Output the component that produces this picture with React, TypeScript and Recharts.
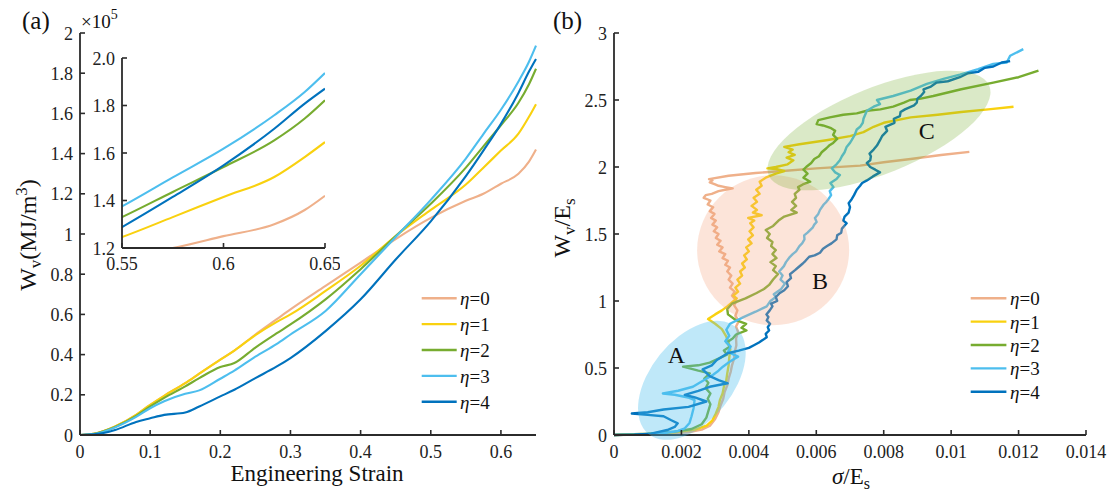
import React from 'react';
import { LineChart, Line, XAxis, YAxis, ReferenceDot, Legend } from 'recharts';

const FONT = '"Liberation Serif", "Times New Roman", Times, serif';
const AXIS = '#2b2b2b';

// ---------- shared series info ----------
const etaValues = [0, 1, 2, 3, 4];
const colors = ['#EFB08A', '#F9D10F', '#77AC30', '#4DBEEE', '#0072BD'];

// ---------- panel (a): Wv (x10^5 MJ/m^3) vs engineering strain ----------
const strain = [0, 0.02, 0.05, 0.08, 0.1, 0.12, 0.15, 0.17, 0.2, 0.22, 0.25, 0.28, 0.3, 0.35, 0.4, 0.45, 0.5, 0.55, 0.575, 0.6, 0.625, 0.64, 0.65];
const wvEta0 = [0, 0.006, 0.042, 0.1, 0.15, 0.195, 0.258, 0.305, 0.375, 0.42, 0.5, 0.575, 0.625, 0.742, 0.858, 0.975, 1.08, 1.165, 1.2, 1.25, 1.3, 1.36, 1.42];
const wvEta1 = [0, 0.006, 0.042, 0.1, 0.15, 0.195, 0.258, 0.305, 0.375, 0.42, 0.497, 0.562, 0.6, 0.717, 0.842, 0.99, 1.12, 1.246, 1.33, 1.415, 1.499, 1.583, 1.646];
const wvEta2 = [0, 0.006, 0.04, 0.095, 0.142, 0.185, 0.242, 0.283, 0.338, 0.358, 0.435, 0.505, 0.55, 0.675, 0.825, 0.99, 1.15, 1.33, 1.436, 1.541, 1.653, 1.745, 1.822];
const wvEta3 = [0, 0.005, 0.038, 0.09, 0.133, 0.168, 0.205, 0.222, 0.28, 0.32, 0.39, 0.452, 0.5, 0.617, 0.8, 0.985, 1.17, 1.375, 1.497, 1.618, 1.759, 1.857, 1.937];
const wvEta4 = [0, 0.003, 0.025, 0.065, 0.083, 0.1, 0.112, 0.142, 0.192, 0.225, 0.283, 0.34, 0.383, 0.517, 0.675, 0.873, 1.063, 1.288, 1.415, 1.548, 1.702, 1.808, 1.871];

const strainTicks = [0, 0.1, 0.2, 0.3, 0.4, 0.5, 0.6];
const wvTicks = [0, 0.2, 0.4, 0.6, 0.8, 1, 1.2, 1.4, 1.6, 1.8, 2];
const insetStrainTicks = [0.55, 0.6, 0.65];
const insetWvTicks = [1.2, 1.4, 1.6, 1.8, 2.0];

const wvSeries = [wvEta0, wvEta1, wvEta2, wvEta3, wvEta4];
const tableA = strain.map((s, i) => {
  const row: Record<string, number> = { s };
  wvSeries.forEach((arr, k) => { row['e' + k] = arr[i]; });
  return row;
});

// ---------- panel (b): Wv/Es vs sigma/Es ; pairs are [sigma/Es in units of 1e-3, Wv/Es] ----------
const sigmaTicks = [0, 0.002, 0.004, 0.006, 0.008, 0.01, 0.012, 0.014];
const ratioTicks = [0, 0.5, 1, 1.5, 2, 2.5, 3];

const bEta0: [number, number][] = [[0,0],[0.8,0.004],[1.6,0.01],[2.2,0.02],[2.6,0.04],[2.85,0.07],[3.0,0.12],[3.1,0.17],[3.16,0.22],[3.24,0.27],[3.28,0.32],[3.36,0.37],[3.4,0.42],[3.46,0.47],[3.5,0.52],[3.56,0.57],[3.58,0.62],[3.63,0.67],[3.62,0.72],[3.68,0.77],[3.62,0.81],[3.7,0.85],[3.6,0.89],[3.66,0.93],[3.56,0.97],[3.64,1.0],[3.5,1.04],[3.58,1.07],[3.44,1.1],[3.52,1.13],[3.4,1.16],[3.48,1.19],[3.36,1.22],[3.44,1.25],[3.3,1.27],[3.38,1.3],[3.22,1.32],[3.3,1.35],[3.12,1.37],[3.22,1.4],[3.06,1.42],[3.16,1.45],[3.02,1.47],[3.1,1.5],[2.96,1.52],[3.06,1.55],[2.92,1.57],[3.02,1.6],[2.88,1.62],[2.98,1.65],[2.84,1.67],[2.94,1.7],[2.78,1.72],[2.86,1.75],[2.66,1.77],[2.72,1.79],[2.9,1.8],[3.1,1.82],[3.3,1.83],[3.52,1.84],[3.3,1.85],[3.1,1.86],[3.0,1.87],[2.84,1.885],[2.92,1.9],[2.82,1.91],[3.4,1.935],[4.2,1.955],[5.0,1.97],[6.0,1.99],[7.3,2.01],[8.0,2.035],[8.8,2.06],[9.7,2.09],[10.54,2.113]];
const bEta1: [number, number][] = [[0,0],[1.0,0.008],[1.8,0.02],[2.4,0.04],[2.75,0.07],[2.92,0.11],[3.02,0.16],[3.1,0.21],[3.14,0.26],[3.22,0.31],[3.26,0.36],[3.33,0.41],[3.36,0.46],[3.4,0.52],[3.42,0.58],[3.45,0.64],[3.4,0.69],[3.32,0.74],[3.2,0.79],[3.0,0.83],[2.79,0.865],[3.0,0.9],[3.2,0.93],[3.36,0.96],[3.5,0.99],[3.64,1.02],[3.54,1.04],[3.68,1.07],[3.6,1.1],[3.74,1.13],[3.66,1.16],[3.8,1.19],[3.74,1.22],[3.88,1.25],[3.8,1.28],[3.94,1.31],[3.86,1.34],[4.0,1.37],[3.92,1.4],[4.08,1.43],[3.98,1.46],[4.12,1.49],[4.02,1.52],[4.14,1.55],[4.04,1.58],[4.16,1.6],[3.98,1.62],[4.38,1.64],[4.12,1.66],[4.24,1.68],[4.08,1.71],[4.24,1.74],[4.14,1.77],[4.32,1.8],[4.22,1.83],[4.38,1.86],[4.32,1.89],[4.5,1.92],[4.8,1.95],[5.05,1.97],[4.8,1.985],[4.55,1.99],[4.8,2.0],[5.15,2.02],[5.32,2.05],[5.12,2.07],[5.36,2.09],[5.18,2.11],[5.3,2.13],[5.05,2.15],[5.5,2.17],[6.3,2.2],[7.0,2.23],[7.4,2.26],[7.7,2.3],[8.0,2.33],[8.8,2.37],[9.6,2.39],[10.3,2.41],[11.1,2.43],[11.85,2.45]];
const bEta2: [number, number][] = [[0,0],[1.0,0.01],[1.8,0.025],[2.3,0.045],[2.6,0.08],[2.74,0.13],[2.8,0.18],[2.86,0.23],[2.78,0.27],[2.86,0.31],[2.72,0.35],[2.8,0.39],[2.68,0.42],[2.84,0.46],[2.5,0.48],[2.05,0.51],[2.5,0.52],[2.84,0.54],[3.1,0.57],[3.35,0.6],[3.26,0.63],[3.44,0.66],[3.34,0.69],[3.52,0.72],[3.62,0.75],[3.93,0.78],[3.78,0.8],[3.92,0.83],[3.6,0.86],[3.38,0.9],[3.36,0.94],[3.5,0.98],[3.9,1.02],[4.23,1.06],[4.45,1.09],[4.6,1.12],[4.72,1.16],[4.86,1.2],[4.72,1.23],[4.8,1.26],[4.64,1.29],[4.82,1.32],[4.7,1.35],[4.8,1.38],[4.66,1.41],[4.7,1.44],[4.54,1.47],[4.62,1.5],[4.5,1.53],[4.72,1.56],[4.88,1.6],[5.05,1.63],[5.42,1.66],[5.26,1.68],[5.4,1.71],[5.28,1.74],[5.4,1.77],[5.36,1.8],[5.5,1.83],[5.46,1.85],[5.6,1.87],[5.82,1.89],[5.62,1.92],[5.74,1.95],[5.62,1.98],[5.7,2.0],[5.85,2.03],[5.94,2.06],[6.08,2.08],[6.16,2.11],[6.3,2.14],[6.38,2.16],[6.5,2.18],[6.62,2.21],[6.5,2.24],[6.56,2.27],[6.44,2.29],[6.2,2.31],[6.01,2.32],[6.06,2.35],[6.4,2.37],[6.8,2.39],[7.2,2.4],[7.5,2.42],[7.9,2.43],[8.28,2.45],[8.6,2.48],[8.78,2.5],[9.1,2.51],[9.47,2.53],[10.3,2.58],[11.25,2.63],[12.0,2.67],[12.59,2.72]];
const bEta3: [number, number][] = [[0,0],[0.8,0.005],[1.5,0.015],[1.9,0.03],[2.1,0.05],[2.24,0.09],[2.3,0.14],[2.36,0.2],[2.39,0.26],[2.2,0.28],[1.8,0.3],[1.45,0.31],[1.9,0.33],[2.34,0.36],[2.6,0.4],[2.94,0.45],[3.1,0.48],[3.23,0.51],[3.45,0.55],[3.68,0.585],[3.38,0.62],[3.46,0.66],[3.3,0.7],[3.42,0.74],[3.33,0.785],[3.44,0.83],[3.84,0.88],[4.2,0.92],[4.53,0.96],[4.64,1.0],[4.8,1.03],[4.74,1.05],[4.96,1.09],[5.07,1.13],[4.94,1.16],[5.0,1.19],[4.9,1.22],[5.04,1.26],[5.1,1.29],[5.22,1.33],[5.3,1.35],[5.4,1.37],[5.5,1.41],[5.58,1.43],[5.65,1.46],[5.64,1.49],[5.74,1.51],[5.9,1.55],[5.94,1.57],[6.01,1.59],[5.96,1.62],[6.06,1.65],[6.11,1.68],[6.22,1.72],[6.3,1.74],[6.36,1.76],[6.44,1.79],[6.4,1.82],[6.51,1.85],[6.42,1.88],[6.6,1.91],[6.7,1.94],[6.56,1.96],[6.46,1.99],[6.6,2.02],[6.7,2.05],[6.76,2.08],[6.84,2.11],[6.9,2.15],[7.0,2.18],[7.05,2.2],[7.14,2.24],[7.2,2.28],[7.3,2.3],[7.38,2.33],[7.4,2.36],[7.5,2.42],[7.7,2.45],[7.89,2.47],[7.8,2.5],[8.28,2.53],[8.8,2.57],[9.28,2.62],[9.8,2.66],[10.26,2.69],[10.8,2.73],[11.25,2.77],[11.65,2.78],[11.75,2.83],[12.14,2.88]];
const bEta4: [number, number][] = [[0,0],[0.6,0.003],[1.1,0.01],[1.58,0.037],[1.8,0.06],[1.89,0.087],[1.7,0.11],[1.47,0.14],[1.0,0.15],[0.53,0.16],[1.0,0.17],[1.47,0.19],[2.21,0.21],[2.74,0.25],[2.4,0.28],[2.1,0.3],[2.5,0.33],[2.84,0.36],[3.37,0.386],[3.1,0.41],[2.84,0.44],[2.63,0.49],[2.9,0.52],[3.05,0.56],[3.37,0.61],[3.7,0.63],[4.0,0.65],[4.15,0.67],[4.3,0.69],[4.42,0.71],[4.53,0.73],[4.5,0.755],[4.6,0.78],[4.56,0.805],[4.63,0.83],[4.53,0.855],[4.58,0.88],[4.52,0.9],[4.62,0.93],[4.7,0.96],[4.66,0.98],[4.84,1.0],[4.8,1.03],[4.92,1.06],[5.05,1.08],[5.16,1.11],[5.12,1.14],[5.25,1.17],[5.22,1.2],[5.37,1.23],[5.46,1.25],[5.6,1.28],[5.68,1.3],[5.79,1.33],[5.95,1.34],[6.11,1.36],[6.2,1.39],[6.32,1.41],[6.45,1.43],[6.6,1.46],[6.62,1.49],[6.74,1.51],[6.76,1.54],[6.9,1.58],[6.8,1.6],[6.84,1.63],[6.96,1.66],[7.0,1.7],[6.96,1.73],[7.05,1.76],[7.12,1.79],[7.2,1.83],[7.3,1.86],[7.36,1.88],[7.5,1.9],[7.68,1.93],[7.89,1.96],[7.75,1.98],[7.6,2.0],[7.5,2.03],[7.6,2.05],[7.62,2.08],[7.58,2.1],[7.7,2.13],[7.8,2.16],[7.89,2.2],[7.95,2.23],[8.1,2.27],[8.05,2.3],[8.32,2.33],[8.3,2.36],[8.48,2.38],[8.5,2.41],[8.63,2.43],[8.9,2.46],[8.98,2.48],[9.0,2.51],[9.1,2.53],[9.2,2.56],[9.18,2.58],[9.4,2.6],[9.57,2.63],[9.9,2.64],[10.26,2.67],[10.5,2.7],[10.8,2.71],[11.0,2.74],[11.25,2.75],[11.5,2.78],[11.75,2.79]];

const bSeries = [bEta0, bEta1, bEta2, bEta3, bEta4].map((arr) => arr.map(([x, y]) => ({ x: x / 1000, y })));

// shaded regions of panel (b): centre in data units and region label position
const regionNames = ['A', 'B', 'C'];
const regionCentreX = [0.00231, 0.00472, 0.00786];
const regionCentreY = [0.408, 1.379, 2.272];
const regionLabelX = [0.00185, 0.00611, 0.00928];
const regionLabelY = [0.598, 1.146, 2.272];
// styles of the shaded ellipses (pixels / colours)
const regionStyle = [
  { rx: 69, ry: 41, rot: -51, fill: '#4DBEEE', op: 0.36 },
  { rx: 76, ry: 75, rot: 0, fill: '#F4A582', op: 0.3 },
  { rx: 119, ry: 43, rot: -22, fill: '#77AC30', op: 0.27 },
];

// ---------- helpers ----------
type Side = 'bottom' | 'top' | 'left' | 'right';
const txt = (size: number): React.CSSProperties => ({ fontFamily: FONT, fontSize: size });

const makeTick = (side: Side, fmt: ((v: number) => string) | null, fontSize = 18, len = 5, gap = 23) => (props: any) => {
  const { x, y, payload } = props;
  const v = payload.value as number;
  let line: React.ReactNode = null;
  let text: React.ReactNode = null;
  if (side === 'bottom') {
    line = <line x1={x} y1={y} x2={x} y2={y - len} stroke={AXIS} strokeWidth={1.6} />;
    if (fmt) text = <text x={x} y={y + gap} textAnchor="middle" fill="#222" style={txt(fontSize)}>{fmt(v)}</text>;
  } else if (side === 'top') {
    line = <line x1={x} y1={y} x2={x} y2={y + len} stroke={AXIS} strokeWidth={1.6} />;
  } else if (side === 'left') {
    line = <line x1={x} y1={y} x2={x + len} y2={y} stroke={AXIS} strokeWidth={1.6} />;
    if (fmt) text = <text x={x - gap} y={y + 6.5} textAnchor="end" fill="#222" style={txt(fontSize)}>{fmt(v)}</text>;
  } else {
    line = <line x1={x} y1={y} x2={x - len} y2={y} stroke={AXIS} strokeWidth={1.6} />;
  }
  return <g>{line}{text}</g>;
};

const axisLine = { stroke: AXIS, strokeWidth: 1.8 };

const LegendBox = ({ y0, dy, x1, x2, tx }: { y0: number; dy: number; x1: number; x2: number; tx: number }) => (
  <svg width={130} height={140} style={{ display: 'block', overflow: 'visible' }}>
    {etaValues.map((e, i) => {
      const y = y0 + i * dy;
      return (
        <g key={e}>
          <line x1={x1} x2={x2} y1={y} y2={y} stroke={colors[i]} strokeWidth={2.4} />
          <text x={tx} y={y + 7} fill="#111" style={txt(19)}>
            <tspan style={{ fontStyle: 'italic' }}>η</tspan>={e}
          </text>
        </g>
      );
    })}
  </svg>
);

const fmtPlain = (v: number) => String(v);
const fmtOne = (v: number) => v.toFixed(1);

export default function App() {
  return (
    <div style={{ position: 'absolute', left: 0, top: 0, width: 1117, height: 497, background: '#fff', overflow: 'hidden' }}>
      {/* panel (a) */}
      <div style={{ position: 'absolute', left: 0, top: 0 }}>
        <LineChart width={560} height={497} data={tableA} margin={{ top: 33, right: 24, bottom: 32, left: 30 }}>
          <XAxis dataKey="s" type="number" domain={[0, 0.65]} ticks={strainTicks} interval={0} height={30}
            tickSize={0} tickMargin={0} tickLine={false} axisLine={axisLine} tick={makeTick('bottom', fmtPlain, 18, 5, 23)} />
          <XAxis xAxisId="top" orientation="top" dataKey="s" type="number" domain={[0, 0.65]} ticks={strainTicks} interval={0} height={0}
            tickSize={0} tickMargin={0} tickLine={false} axisLine={axisLine} tick={makeTick('top', null)} />
          <YAxis type="number" domain={[0, 2]} ticks={wvTicks} interval={0} width={50}
            tickSize={0} tickMargin={0} tickLine={false} axisLine={axisLine} tick={makeTick('left', fmtPlain, 18, 5, 7)} />
          <YAxis yAxisId="right" orientation="right" type="number" domain={[0, 2]} ticks={wvTicks} interval={0} width={0}
            tickSize={0} tickMargin={0} tickLine={false} axisLine={axisLine} tick={makeTick('right', null)} />
          {etaValues.map((e, k) => (
            <Line key={e} dataKey={'e' + k} type="monotone" stroke={colors[k]} strokeWidth={2.1} dot={false} activeDot={false} isAnimationActive={false} />
          ))}
          <Legend layout="vertical" align="center" verticalAlign="middle" width={130} height={140}
            wrapperStyle={{ left: 415, top: 280, width: 130, height: 140 }}
            content={() => <LegendBox y0={18.3} dy={25.85} x1={6.7} x2={41.7} tx={45} />} />
        </LineChart>
      </div>

      {/* inset of panel (a) */}
      <div style={{ position: 'absolute', left: 80, top: 40 }}>
        <LineChart width={260} height={235} data={tableA} margin={{ top: 18, right: 15, bottom: 7, left: 2 }}>
          <XAxis dataKey="s" type="number" domain={[0.55, 0.65]} allowDataOverflow ticks={insetStrainTicks} interval={0} height={20}
            tickSize={0} tickMargin={0} tickLine={false} axisLine={axisLine} tick={makeTick('bottom', fmtPlain, 18, 5, 22)} />
          <XAxis xAxisId="top" orientation="top" dataKey="s" type="number" domain={[0.55, 0.65]} allowDataOverflow ticks={insetStrainTicks} interval={0} height={0}
            tickSize={0} tickMargin={0} tickLine={false} axisLine={axisLine} tick={makeTick('top', null)} />
          <YAxis type="number" domain={[1.2, 2.0]} allowDataOverflow ticks={insetWvTicks} interval={0} width={40}
            tickSize={0} tickMargin={0} tickLine={false} axisLine={axisLine} tick={makeTick('left', fmtOne, 18, 5, 7)} />
          <YAxis yAxisId="right" orientation="right" type="number" domain={[1.2, 2.0]} allowDataOverflow ticks={insetWvTicks} interval={0} width={0}
            tickSize={0} tickMargin={0} tickLine={false} axisLine={axisLine} tick={makeTick('right', null)} />
          {etaValues.map((e, k) => (
            <Line key={e} dataKey={'e' + k} type="monotone" stroke={colors[k]} strokeWidth={2.1} dot={false} activeDot={false} isAnimationActive={false} />
          ))}
        </LineChart>
      </div>

      {/* panel (b) */}
      <div style={{ position: 'absolute', left: 560, top: 0 }}>
        <LineChart width={557} height={497} margin={{ top: 33, right: 31, bottom: 32, left: 14 }}>
          <XAxis dataKey="x" type="number" domain={[0, 0.014]} ticks={sigmaTicks} interval={0} height={30}
            tickSize={0} tickMargin={0} tickLine={false} axisLine={axisLine} tick={makeTick('bottom', fmtPlain, 18, 5, 23)} />
          <XAxis xAxisId="top" orientation="top" dataKey="x" type="number" domain={[0, 0.014]} ticks={sigmaTicks} interval={0} height={0}
            tickSize={0} tickMargin={0} tickLine={false} axisLine={axisLine} tick={makeTick('top', null)} />
          <YAxis type="number" domain={[0, 3]} ticks={ratioTicks} interval={0} width={40}
            tickSize={0} tickMargin={0} tickLine={false} axisLine={axisLine} tick={makeTick('left', fmtPlain, 18, 5, 7)} />
          <YAxis yAxisId="right" orientation="right" type="number" domain={[0, 3]} ticks={ratioTicks} interval={0} width={0}
            tickSize={0} tickMargin={0} tickLine={false} axisLine={axisLine} tick={makeTick('right', null)} />
          {bSeries.map((pts, k) => (
            <Line key={k} data={pts} dataKey="y" type="linear" stroke={colors[k]} strokeWidth={2.4} strokeLinejoin="round" dot={false} activeDot={false} isAnimationActive={false} />
          ))}
          {regionNames.map((n, i) => (
            <ReferenceDot key={'e' + n} x={regionCentreX[i]} y={regionCentreY[i]} r={1}
              shape={(p: any) => (
                <ellipse cx={p.cx} cy={p.cy} rx={regionStyle[i].rx} ry={regionStyle[i].ry}
                  transform={`rotate(${regionStyle[i].rot} ${p.cx} ${p.cy})`}
                  fill={regionStyle[i].fill} fillOpacity={regionStyle[i].op} stroke="none" />
              )} />
          ))}
          {regionNames.map((n, i) => (
            <ReferenceDot key={'l' + n} x={regionLabelX[i]} y={regionLabelY[i]} r={1}
              shape={(p: any) => (
                <text x={p.cx} y={p.cy + 8} textAnchor="middle" fill="#111" style={txt(24)}>{n}</text>
              )} />
          ))}
          <Legend layout="vertical" align="center" verticalAlign="middle" width={130} height={140}
            wrapperStyle={{ left: 405, top: 280, width: 130, height: 140 }}
            content={() => <LegendBox y0={18.3} dy={23.35} x1={5.7} x2={41.4} tx={45} />} />
        </LineChart>
      </div>

      {/* titles */}
      <svg width={1117} height={497} style={{ position: 'absolute', left: 0, top: 0, pointerEvents: 'none' }}>
        <g fill="#111">
          <text x={22} y={29} style={txt(25)}>(a)</text>
          <text x={553} y={29} style={txt(25)}>(b)</text>
          <text x={81} y={28} style={txt(19)}>
            <tspan>×10</tspan>
            <tspan dy={-9} style={txt(14)}>5</tspan>
          </text>
          <text x={317} y={481} textAnchor="middle" style={txt(23)}>Engineering Strain</text>
          <text transform="rotate(-90 36 235)" x={36} y={235} textAnchor="middle" style={txt(24)}>
            W<tspan dy={5} style={txt(17)}>v</tspan><tspan dy={-5}>(MJ/m</tspan><tspan dy={-9} style={txt(17)}>3</tspan><tspan dy={9}>)</tspan>
          </text>
          <text transform="rotate(-90 570 228)" x={570} y={228} textAnchor="middle" style={txt(24)}>
            W<tspan dy={5} style={txt(17)}>v</tspan><tspan dy={-5}>/E</tspan><tspan dy={5} style={txt(17)}>s</tspan>
          </text>
          <text x={851} y={484} textAnchor="middle" style={txt(23)}>
            <tspan style={{ fontStyle: 'italic' }}>σ</tspan>/E<tspan dy={5} style={txt(16)}>s</tspan>
          </text>
        </g>
      </svg>
    </div>
  );
}
